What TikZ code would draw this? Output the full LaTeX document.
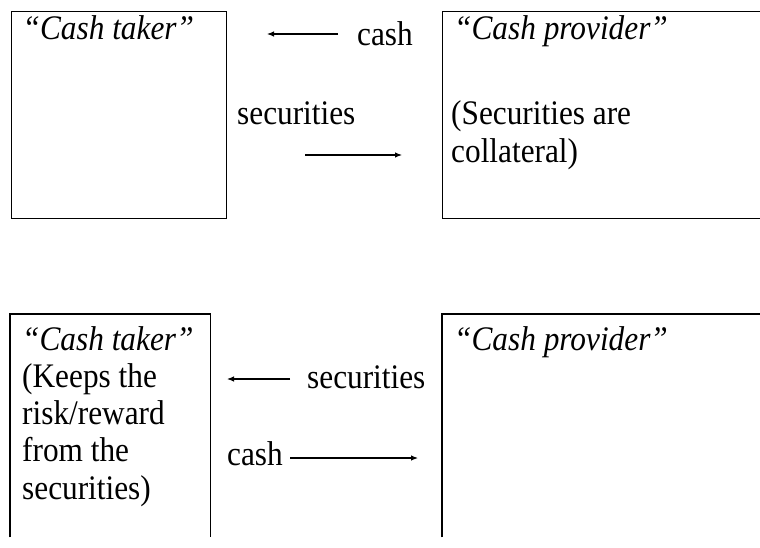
\documentclass[tikz,border=0pt]{standalone}
\usepackage{fontspec}
\setmainfont{Liberation Serif}
\usetikzlibrary{arrows.meta}
\begin{document}
\begin{tikzpicture}[x=1pt,y=-1pt,
  box/.style={draw, line width=1.3pt, inner sep=0pt, anchor=north west},
  region/.style={inner sep=0pt, anchor=north west},
  boxline/.style={line width=1.3pt},
  txt/.style={font=\fontsize{31.3}{33.7}\selectfont, inner sep=0pt, anchor=base west, align=left, yscale=1.1, transform shape},
  flow/.style={line width=1.1pt, -{Latex[length=7pt,width=5.5pt]}}]
\useasboundingbox[fill=white] (0,0) rectangle (760,547);
% top row
\node[box, minimum width=215.5pt, minimum height=207pt] (ctA) at (10.5,11) {};
\node[box, minimum width=340pt, minimum height=207pt] (cpA) at (442,11) {};
% bottom row (open at the bottom)
\node[region, minimum width=200pt, minimum height=223pt] (ctB) at (10,314) {};
\node[region, minimum width=340pt, minimum height=223pt] (cpB) at (442,314) {};
\draw[boxline] (ctB.south west) -- (ctB.north west) -- (ctB.north east) -- (ctB.south east);
\draw[boxline] (cpB.south west) -- (cpB.north west) -- (cpB.north east);
% texts
\node[txt] (ctAt) at (22.5,39) {\itshape “Cash taker”};
\node[txt] (cashA) at (357,45) {cash};
\node[txt] (secA) at (237,124) {securities};
\node[txt] (cpAt) at (454,39) {\itshape “Cash provider”};
\node[txt] (cpAn) at (451,162) {(Securities are\\collateral)};
\node[txt] (ctBt) at (22,499) {{\itshape “Cash taker”}\\(Keeps the\\risk/reward\\from the\\securities)};
\node[txt] (cpBt) at (454,350) {\itshape “Cash provider”};
\node[txt] (secB) at (307,388) {securities};
\node[txt] (cashB) at (227,465) {cash};
% arrows
\coordinate (a1s) at (338,34);
\coordinate (a1e) at (267,34);
\coordinate (a2s) at (305,155);
\coordinate (a2e) at (402,155);
\coordinate (a3s) at (290,379);
\coordinate (a3e) at (227,379);
\coordinate (a4s) at (290,458);
\coordinate (a4e) at (418,458);
\draw[flow] (a1s) -- (a1e);
\draw[flow] (a2s) -- (a2e);
\draw[flow] (a3s) -- (a3e);
\draw[flow] (a4s) -- (a4e);
\end{tikzpicture}
\end{document}
